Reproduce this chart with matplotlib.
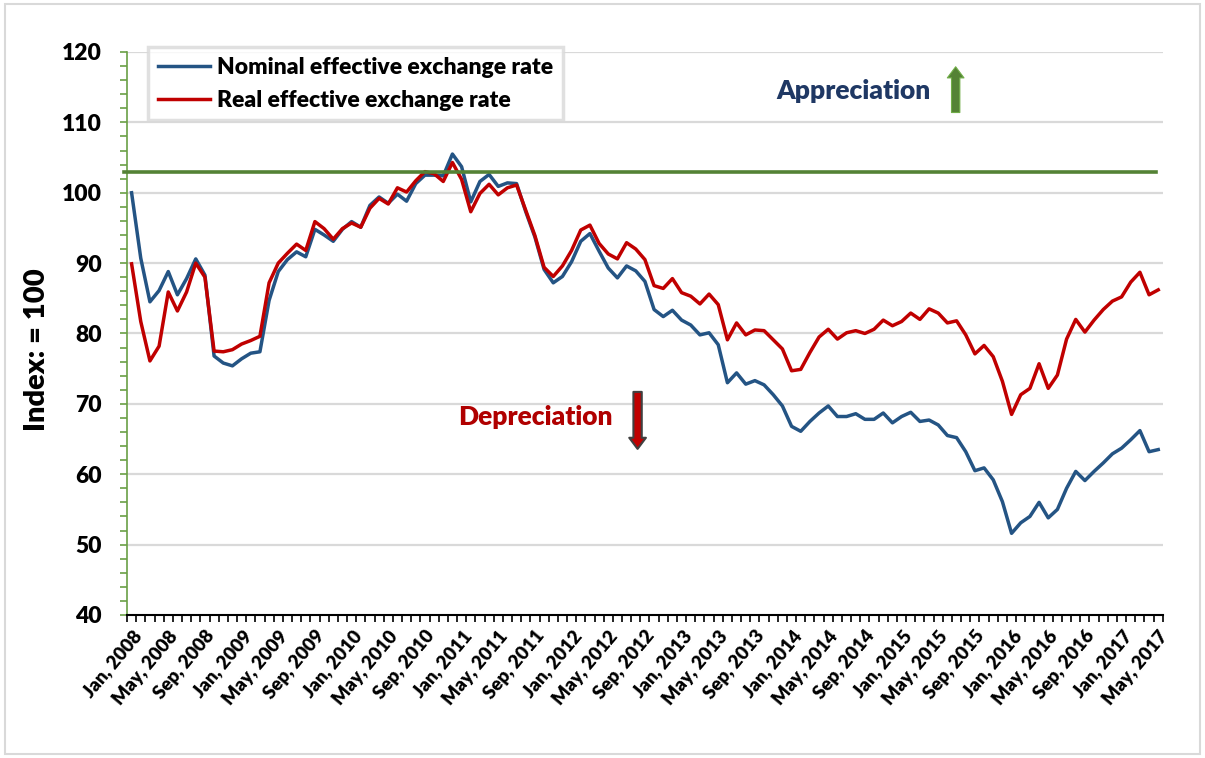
import matplotlib
matplotlib.use("Agg")
import matplotlib.pyplot as plt
from matplotlib.patches import Rectangle
from matplotlib.font_manager import FontProperties

plt.rcParams['font.family'] = ['Lato', 'DejaVu Sans']

# Monthly index values, Jan 2008 - May 2017
nominal = [100.0, 90.7, 84.5, 86.1, 88.8, 85.5, 87.8, 90.6, 88.3, 76.8,
           75.8, 75.4, 76.4, 77.2, 77.4, 84.7, 88.8, 90.5, 91.6, 90.9,
           94.8, 94.0, 93.1, 94.8, 95.9, 95.1, 98.2, 99.4, 98.5, 99.8,
           98.8, 101.3, 102.5, 102.5, 102.4, 105.5, 103.7, 98.7, 101.6, 102.6,
           100.9, 101.4, 101.3, 97.3, 93.7, 89.1, 87.2, 88.1, 90.2, 93.1,
           94.2, 91.7, 89.3, 87.9, 89.6, 88.9, 87.4, 83.4, 82.4, 83.3,
           81.9, 81.2, 79.8, 80.1, 78.4, 73.0, 74.4, 72.8, 73.3, 72.7,
           71.3, 69.7, 66.8, 66.1, 67.5, 68.7, 69.7, 68.2, 68.2, 68.6,
           67.8, 67.8, 68.7, 67.3, 68.2, 68.8, 67.5, 67.7, 67.0, 65.5,
           65.2, 63.2, 60.5, 60.9, 59.2, 56.1, 51.6, 53.1, 54.0, 56.0,
           53.8, 55.0, 58.0, 60.4, 59.1, 60.4, 61.6, 62.9, 63.7, 64.9,
           66.2, 63.2, 63.5]

real = [89.9, 81.7, 76.1, 78.2, 85.9, 83.2, 85.9, 90.0, 88.0, 77.5,
        77.4, 77.7, 78.5, 79.0, 79.6, 87.2, 90.0, 91.4, 92.7, 91.8,
        95.9, 94.9, 93.4, 94.9, 95.7, 95.1, 97.8, 99.2, 98.4, 100.7,
        100.1, 101.7, 103.0, 102.7, 101.6, 104.3, 101.9, 97.3, 99.9, 101.2,
        99.7, 100.7, 101.1, 97.5, 93.9, 89.4, 88.1, 89.6, 91.8, 94.7,
        95.4, 92.8, 91.3, 90.6, 92.9, 92.0, 90.5, 86.8, 86.4, 87.8,
        85.8, 85.3, 84.2, 85.6, 84.1, 79.1, 81.5, 79.8, 80.5, 80.4,
        79.1, 77.8, 74.7, 74.9, 77.3, 79.5, 80.6, 79.2, 80.1, 80.4,
        80.0, 80.6, 81.9, 81.1, 81.7, 82.9, 82.0, 83.5, 82.9, 81.5,
        81.8, 79.8, 77.1, 78.3, 76.7, 73.2, 68.5, 71.3, 72.2, 75.7,
        72.2, 74.1, 79.2, 82.0, 80.2, 81.9, 83.4, 84.6, 85.2, 87.3,
        88.7, 85.5, 86.2]

reference_level = 103.0

tick_labels = ["Jan, 2008", "May, 2008", "Sep, 2008", "Jan, 2009", "May, 2009",
               "Sep, 2009", "Jan, 2010", "May, 2010", "Sep, 2010", "Jan, 2011",
               "May, 2011", "Sep, 2011", "Jan, 2012", "May, 2012", "Sep, 2012",
               "Jan, 2013", "May, 2013", "Sep, 2013", "Jan, 2014", "May, 2014",
               "Sep, 2014", "Jan, 2015", "May, 2015", "Sep, 2015", "Jan, 2016",
               "May, 2016", "Sep, 2016", "Jan, 2017", "May, 2017"]

series_names = ["Nominal effective exchange rate", "Real effective exchange rate"]

n = len(nominal)
x = list(range(n))

fig = plt.figure(figsize=(12.05, 7.58), dpi=100)
fig.patches.append(Rectangle((0.004, 0.005), 0.992, 0.99, transform=fig.transFigure,
                             fill=False, edgecolor='#d9d9d9', linewidth=1.5))
ax = fig.add_axes([0.1054, 0.1887, 0.8596, 0.7427])

blue = '#245484'
red = '#C00000'
green = '#548235'

for v in range(50, 121, 10):
    ax.axhline(v, color='#d9d9d9', linewidth=1.6, zorder=1)

ax.plot(x, nominal, color=blue, linewidth=2.5, zorder=3, label=series_names[0])
ax.plot(x, real, color=red, linewidth=2.5, zorder=4, label=series_names[1])
ax.plot([-0.8, n - 1.2], [reference_level, reference_level], color=green,
        linewidth=2.6, zorder=5, clip_on=False)

ax.set_xlim(-0.5, n - 0.5)
ax.set_ylim(40, 120)

# y axis
ax.set_yticks(range(40, 121, 10))
ax.set_yticks(range(40, 121, 2), minor=True)
ax.tick_params(axis='y', which='both', direction='out', length=5, width=1.2,
               color='#6A9F45', labelsize=16.5, pad=13)
for lab in ax.get_yticklabels():
    lab.set_fontweight('heavy')
ax.spines['left'].set_color('#6A9F45')
ax.spines['left'].set_linewidth(1.2)

# x axis
ax.set_xticks(range(0, n, 4))
ax.set_xticklabels(tick_labels, rotation=50, ha='right', rotation_mode='anchor',
                   fontsize=13.5, fontweight='heavy')
ax.set_xticks([i - 0.5 for i in range(n + 1)], minor=True)
ax.tick_params(axis='x', which='major', length=0, pad=9)
ax.tick_params(axis='x', which='minor', direction='out', length=5, width=1.2, color='black')
ax.spines['bottom'].set_linewidth(1.5)
ax.spines['top'].set_visible(False)
ax.spines['right'].set_visible(False)

fig.text(37 / 1205, 1 - 350 / 758, "Index: = 100", rotation=90, ha='center', va='center',
         fontsize=21, fontweight='heavy')

leg_font = FontProperties(family=['Lato', 'DejaVu Sans'], weight='heavy', size=16.5)
leg = ax.legend(loc='upper left', bbox_to_anchor=(0.0203, 1.008),
                prop=leg_font, frameon=True, fancybox=False,
                handlelength=2.3, handletextpad=0.3, labelspacing=0.5,
                borderpad=0.42, borderaxespad=0)
leg.get_frame().set_edgecolor('#d9d9d9')
leg.get_frame().set_linewidth(2.5)
leg.set_zorder(10)

ax.text(78.7, 114.5, "Appreciation", ha='center', va='center', fontsize=19,
        fontweight='heavy', color='#1F3864')
ax.annotate('', xy=(89.9, 117.9), xytext=(89.9, 111.4),
            arrowprops=dict(arrowstyle='simple,head_width=1.2,head_length=0.8,tail_width=0.6',
                            mutation_scale=10, facecolor=green, edgecolor='#70AD47',
                            linewidth=0.8, shrinkA=0, shrinkB=0))

ax.text(44.0, 68.2, "Depreciation", ha='center', va='center', fontsize=19,
        fontweight='heavy', color='#B00000')
ax.annotate('', xy=(55.2, 63.6), xytext=(55.2, 71.7),
            arrowprops=dict(arrowstyle='simple,head_width=1.2,head_length=0.8,tail_width=0.6',
                            mutation_scale=10, facecolor=red, edgecolor='#404040',
                            linewidth=1.5, shrinkA=0, shrinkB=0))

fig.savefig("out.png", dpi=100)
